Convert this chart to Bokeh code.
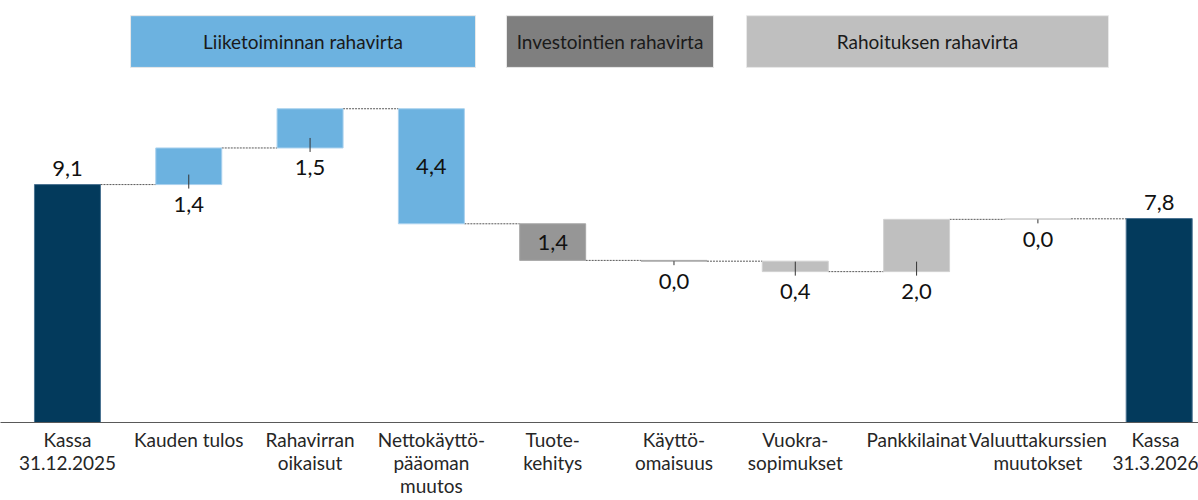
from bokeh.plotting import figure
from bokeh.models import Range1d, FixedTicker, ColumnDataSource
from bokeh.core.properties import value
from bokeh.embed import file_html
from bokeh.resources import INLINE

# ---- data ----
categories = ["Kassa\n31.12.2025", "Kauden tulos", "Rahavirran\noikaisut",
              "Nettokäyttö-\npääoman\nmuutos", "Tuote-\nkehitys", "Käyttö-\nomaisuus",
              "Vuokra-\nsopimukset", "Pankkilainat", "Valuuttakurssien\nmuutokset",
              "Kassa\n31.3.2026"]
start_cash = 9.1
changes = [1.4, 1.5, -4.4, -1.4, -0.03, -0.4, 2.0, 0.02]
end_cash = 7.8
groups = ["kassa", "liike", "liike", "liike", "inv", "inv", "rah", "rah", "rah", "kassa"]
header_names = ["Liiketoiminnan rahavirta", "Investointien rahavirta", "Rahoituksen rahavirta"]
header_keys = ["liike", "inv", "rah"]

# ---- style / layout ----
FONT = "Lato"
colors = {"kassa": "#033A5C", "liike": "#6CB2E0", "inv": "#969696", "rah": "#BFBFBF"}
edge_colors = {"kassa": "#4A7291", "liike": "#A9D1EE", "inv": "#A8A8A8", "rah": "#D2D2D2"}
header_colors = {"liike": "#6CB2E0", "inv": "#7F7F7F", "rah": "#BFBFBF"}
header_span = [(0.52, 3.364), (3.619, 5.326), (5.598, 8.582)]
header_y = (13.58, 15.56)
label_mode = ["above", "below", "below", "inside", "inside", "below", "below", "below", "below", "above"]
BAR_W = 0.544
W, H = 1198, 500
BOTTOM = 78
Y_MAX = 16.14
PX = (H - BOTTOM) / Y_MAX  # pixels per data unit

def fmt(v):
    return ("%.1f" % abs(v)).replace(".", ",")

# ---- compute waterfall ----
n = len(categories)
xs = list(range(n))
bottoms, tops, vals = [0.0], [start_cash], [start_cash]
run = start_cash
for c in changes:
    new = run + c
    bottoms.append(min(run, new)); tops.append(max(run, new)); vals.append(c)
    run = new
bottoms.append(0.0); tops.append(end_cash); vals.append(end_cash)
levels = [start_cash]
r = start_cash
for c in changes:
    r += c
    levels.append(r)

p = figure(width=W, height=H, output_backend="svg", toolbar_location=None,
           x_range=Range1d(-0.552, 9.324), y_range=Range1d(0, Y_MAX),
           min_border_left=0, min_border_right=0, min_border_top=0, min_border_bottom=BOTTOM)
p.outline_line_color = None
p.xgrid.visible = False
p.ygrid.visible = False
p.yaxis.visible = False

# header boxes
for (x0, x1), key, name in zip(header_span, header_keys, header_names):
    p.quad(left=[x0], right=[x1], bottom=[header_y[0]], top=[header_y[1]],
           fill_color=header_colors[key], line_color="#E8E8E8", line_width=1)
    p.text(x=[(x0 + x1) / 2], y=[(header_y[0] + header_y[1]) / 2], text=[name],
           text_align="center", text_baseline="middle", text_font=value(FONT),
           text_font_size="19px", text_color="#1A1A1A")

# connectors
p.segment(x0=[i + BAR_W / 2 for i in range(n - 1)], x1=[i + 1 - BAR_W / 2 for i in range(n - 1)],
          y0=levels, y1=levels, line_color="#595959", line_width=1, line_dash="2 1")

# bars
src = ColumnDataSource(dict(x=xs, b=bottoms, t=tops, c=[colors[g] for g in groups],
                            e=[edge_colors[g] for g in groups]))
p.vbar(x="x", width=BAR_W, bottom="b", top="t", fill_color="c", line_color="e",
       line_width=1, source=src)

# value labels
for i in range(n):
    txt = fmt(vals[i])
    mode = label_mode[i]
    common = dict(text_align="center", text_baseline="middle", text_font=value(FONT),
                  text_font_size="22px", text_color="#111111")
    if mode == "above":
        p.text(x=[i], y=[tops[i]], text=[txt], y_offset=-16, **common)
    elif mode == "inside":
        p.text(x=[i], y=[(tops[i] + bottoms[i]) / 2], text=[txt], **common)
    else:
        h = tops[i] - bottoms[i]
        y_up = bottoms[i] + min(10 / PX, max(h, 4 / PX) if h > 0.2 else 0.0)
        p.segment(x0=[i], x1=[i], y0=[y_up], y1=[bottoms[i] - 4 / PX],
                  line_color="#333333", line_width=1)
        p.text(x=[i], y=[bottoms[i]], text=[txt], y_offset=20, **common)

# x axis
p.xaxis.ticker = FixedTicker(ticks=xs)
p.xaxis.major_label_overrides = {i: categories[i] for i in xs}
p.xaxis.major_tick_line_color = None
p.xaxis.minor_tick_line_color = None
p.xaxis.axis_line_color = "#595959"
p.xaxis.axis_line_width = 1
p.xaxis.major_label_text_font = FONT
p.xaxis.major_label_text_font_size = "19px"
p.xaxis.major_label_text_color = "#262626"
p.xaxis.major_label_text_line_height = 1.0
p.xaxis.major_label_standoff = -1

open("out.html", "w").write(file_html(p, INLINE))
